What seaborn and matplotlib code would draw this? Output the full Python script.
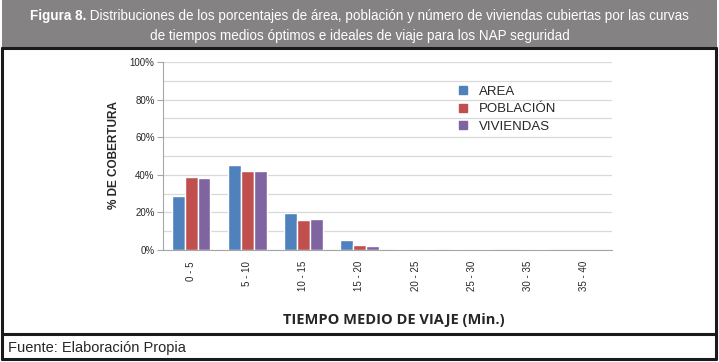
import pandas as pd
import matplotlib.pyplot as plt
import seaborn as sns
from matplotlib.lines import Line2D
from matplotlib.patches import Rectangle
from matplotlib.ticker import MultipleLocator, PercentFormatter

# data (fraction of coverage)
tramos = ["0 - 5", "5 - 10", "10 - 15", "15 - 20", "20 - 25", "25 - 30", "30 - 35", "35 - 40"]
area = [0.287, 0.450, 0.199, 0.053, 0.006, 0.006, 0.0, 0.0]
poblacion = [0.388, 0.418, 0.159, 0.025, 0.006, 0.006, 0.005, 0.0]
viviendas = [0.383, 0.422, 0.165, 0.021, 0.006, 0.006, 0.005, 0.0]
series = ["AREA", "POBLACIÓN", "VIVIENDAS"]
colores = ["#4F81BD", "#C0504D", "#8064A2"]

df = pd.DataFrame({
    "tramo": tramos * 3,
    "valor": area + poblacion + viviendas,
    "serie": [s for s in series for _ in tramos],
})

sns.set_style("white")
W, H = 719, 362
fig = plt.figure(figsize=(W / 100, H / 100), dpi=100)

def fx(px):
    return px / W

def fy(py):
    return 1 - py / H

ax = fig.add_axes([fx(163), fy(250), fx(612) - fx(163), fy(62) - fy(250)])
sns.barplot(data=df, x="tramo", y="valor", hue="serie", palette=colores,
            width=0.69, saturation=1, ax=ax, legend=False)

ax.set_ylim(0, 1)
ax.set_xlim(-0.5, len(tramos) - 0.5)
ax.yaxis.set_major_locator(MultipleLocator(0.2))
ax.yaxis.set_minor_locator(MultipleLocator(0.1))
ax.yaxis.set_major_formatter(PercentFormatter(1.0, decimals=0))
ax.grid(True, which="both", axis="y", color="#D9D9D9", lw=0.9)
ax.set_axisbelow(True)
for s in ["top", "right"]:
    ax.spines[s].set_visible(False)
ax.spines["left"].set_color("#A6A6A6")
ax.spines["bottom"].set_color("#A6A6A6")
ax.tick_params(axis="y", which="major", length=4, color="#A6A6A6", left=True,
               labelsize=7, pad=2)
ax.tick_params(axis="x", length=0, labelsize=7, pad=8, labelrotation=90)
for lbl in ax.get_xticklabels() + ax.get_yticklabels():
    lbl.set_fontfamily("Liberation Sans")
ax.set_xlabel("")
ax.set_ylabel("")

# axis titles
fig.text(fx(394), fy(320), "TIEMPO MEDIO DE VIAJE (Min.)", ha="center", va="center",
         fontsize=10.5, fontweight="bold", family="Open Sans")
fig.text(fx(114), fy(155), "% DE COBERTURA", ha="center", va="center", rotation=90,
         fontsize=8.5, fontweight="bold", family="Liberation Sans")

# legend
handles = [Line2D([], [], marker="s", ls="none", color=c, markersize=6) for c in colores]
fig.legend(handles, series, loc="upper left", bbox_to_anchor=(fx(438), fy(74)),
           frameon=False, handletextpad=0.2, labelspacing=0.38,
           prop={"family": "Liberation Sans", "size": 9.5})

# header band and frame
fig.add_artist(Rectangle((fx(2), fy(47)), fx(715), 47 / H, transform=fig.transFigure,
                         color="#858283", lw=0))
frame_kw = dict(transform=fig.transFigure, color="#1A1A1A", lw=2.2)
fig.add_artist(Line2D([fx(2), fx(716)], [fy(48), fy(48)], **frame_kw))
fig.add_artist(Line2D([fx(2), fx(716)], [fy(334), fy(334)], **frame_kw))
fig.add_artist(Line2D([fx(2), fx(716)], [fy(359), fy(359)], **frame_kw))
fig.add_artist(Line2D([fx(2), fx(2)], [fy(48), fy(359)], **frame_kw))
fig.add_artist(Line2D([fx(716), fx(716)], [fy(48), fy(359)], **frame_kw))

# title: bold "Figura 8." followed by regular text on the first line
tfam = "Liberation Sans"
r = fig.canvas.get_renderer()
t_bold = fig.text(0, fy(16), "Figura 8.", color="white", fontsize=10,
                  fontweight="bold", family=tfam, va="center")
t_rest = fig.text(0, fy(16), " Distribuciones de los porcentajes de área, población y número "
                  "de viviendas cubiertas por las curvas", color="white", fontsize=10,
                  family=tfam, va="center")
wb = t_bold.get_window_extent(r).width
wr = t_rest.get_window_extent(r).width
tsize = 10 * 663 / (wb + wr)
t_bold.set_fontsize(tsize)
t_rest.set_fontsize(tsize)
wb = t_bold.get_window_extent(r).width
wr = t_rest.get_window_extent(r).width
x0 = (W - wb - wr) / 2
t_bold.set_x(fx(x0))
t_rest.set_x(fx(x0 + wb))
fig.text(0.5, fy(36), "de tiempos medios óptimos e ideales de viaje para los NAP seguridad",
         color="white", fontsize=tsize, family=tfam, ha="center", va="center")

fig.text(fx(8), fy(348), "Fuente: Elaboración Propia", fontsize=10.5, family=tfam,
         va="center")

fig.savefig("out.png", dpi=100)
